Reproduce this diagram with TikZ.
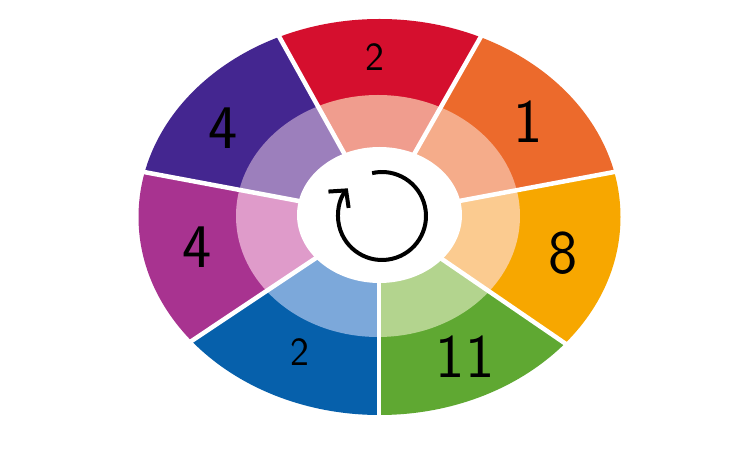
\documentclass[tikz,border=0pt]{standalone}
\usetikzlibrary{arrows.meta}
\definecolor{cRed}{HTML}{D50F2E}
\definecolor{cRedL}{HTML}{F09D8E}
\definecolor{cOrange}{HTML}{EC6A2C}
\definecolor{cOrangeL}{HTML}{F5AC8A}
\definecolor{cYellow}{HTML}{F7A700}
\definecolor{cYellowL}{HTML}{FBCB90}
\definecolor{cGreen}{HTML}{5FA832}
\definecolor{cGreenL}{HTML}{B3D48E}
\definecolor{cBlue}{HTML}{0660AB}
\definecolor{cBlueL}{HTML}{7CA8DA}
\definecolor{cMagenta}{HTML}{A83390}
\definecolor{cMagentaL}{HTML}{DF9BCA}
\definecolor{cPurple}{HTML}{442690}
\definecolor{cPurpleL}{HTML}{9C7FBC}
\tikzset{
  gapline/.style={white, line width=4.5pt},
  digit/.style={inner sep=0pt, text=black, font=\sffamily},
  bigdigit/.style={digit, font=\sffamily\fontsize{62}{62}\selectfont},
  smalldigit/.style={digit, font=\sffamily\fontsize{40}{40}\selectfont},
  turnarrow/.style={line width=4pt, -{Straight Barb[length=12pt,width=26pt]}}
}
\begin{document}
\begin{tikzpicture}[x=1pt,y=1pt]
\fill[white] (0,0) rectangle (756,466);
\useasboundingbox (0,0) rectangle (756,466);
\coordinate (C) at (379,250);
% outer dark sectors
\begin{scope}
  \clip (379.5,249) ellipse [x radius=241, y radius=198];
  \foreach \a/\b/\c in {60.4/119.1/cRed, 10.6/60.4/cOrange, -34.4/10.6/cYellow,
      -90/-34.4/cGreen, -146.3/-90/cBlue, -190.6/-146.3/cMagenta, -240.9/-190.6/cPurple}
    \fill[\c] (C) -- +(\a:420) -- +({(\a+\b)/2}:440) -- +(\b:420) -- cycle;
\end{scope}
% light inner sectors
\begin{scope}
  \clip (378,250) ellipse [x radius=142, y radius=121];
  \foreach \a/\b/\c in {60.4/119.1/cRedL, 10.6/60.4/cOrangeL, -34.4/10.6/cYellowL,
      -90/-34.4/cGreenL, -146.3/-90/cBlueL, -190.6/-146.3/cMagentaL, -240.9/-190.6/cPurpleL}
    \fill[\c] (C) -- +(\a:420) -- +({(\a+\b)/2}:440) -- +(\b:420) -- cycle;
\end{scope}
% white centre
\fill[white] (379.5,251) ellipse [x radius=82.5, y radius=68];
% white gaps
\foreach \a in {119.1, 60.4, 10.6, -34.4, -90, -146.3, 169.4}
  \draw[gapline] (C) -- +(\a:300);
% labels
\node[smalldigit] (tRed) at (375,409) {2};
\node[bigdigit] (tOrange) at (528,344) {1};
\node[bigdigit] (tPurple) at (223,338) {4};
\node[bigdigit] (tMagenta) at (197,219) {4};
\node[bigdigit] (tYellow) at (563,213) {8};
\node[smalldigit] (tBlue) at (300,114) {2};
\node[bigdigit] (tGreen) at (465,109) {11};
% circular arrow
\coordinate (A) at (382,250);
\draw[turnarrow] (A) ++(103:44) arc[start angle=103, end angle=-219, radius=44];
\end{tikzpicture}
\end{document}
